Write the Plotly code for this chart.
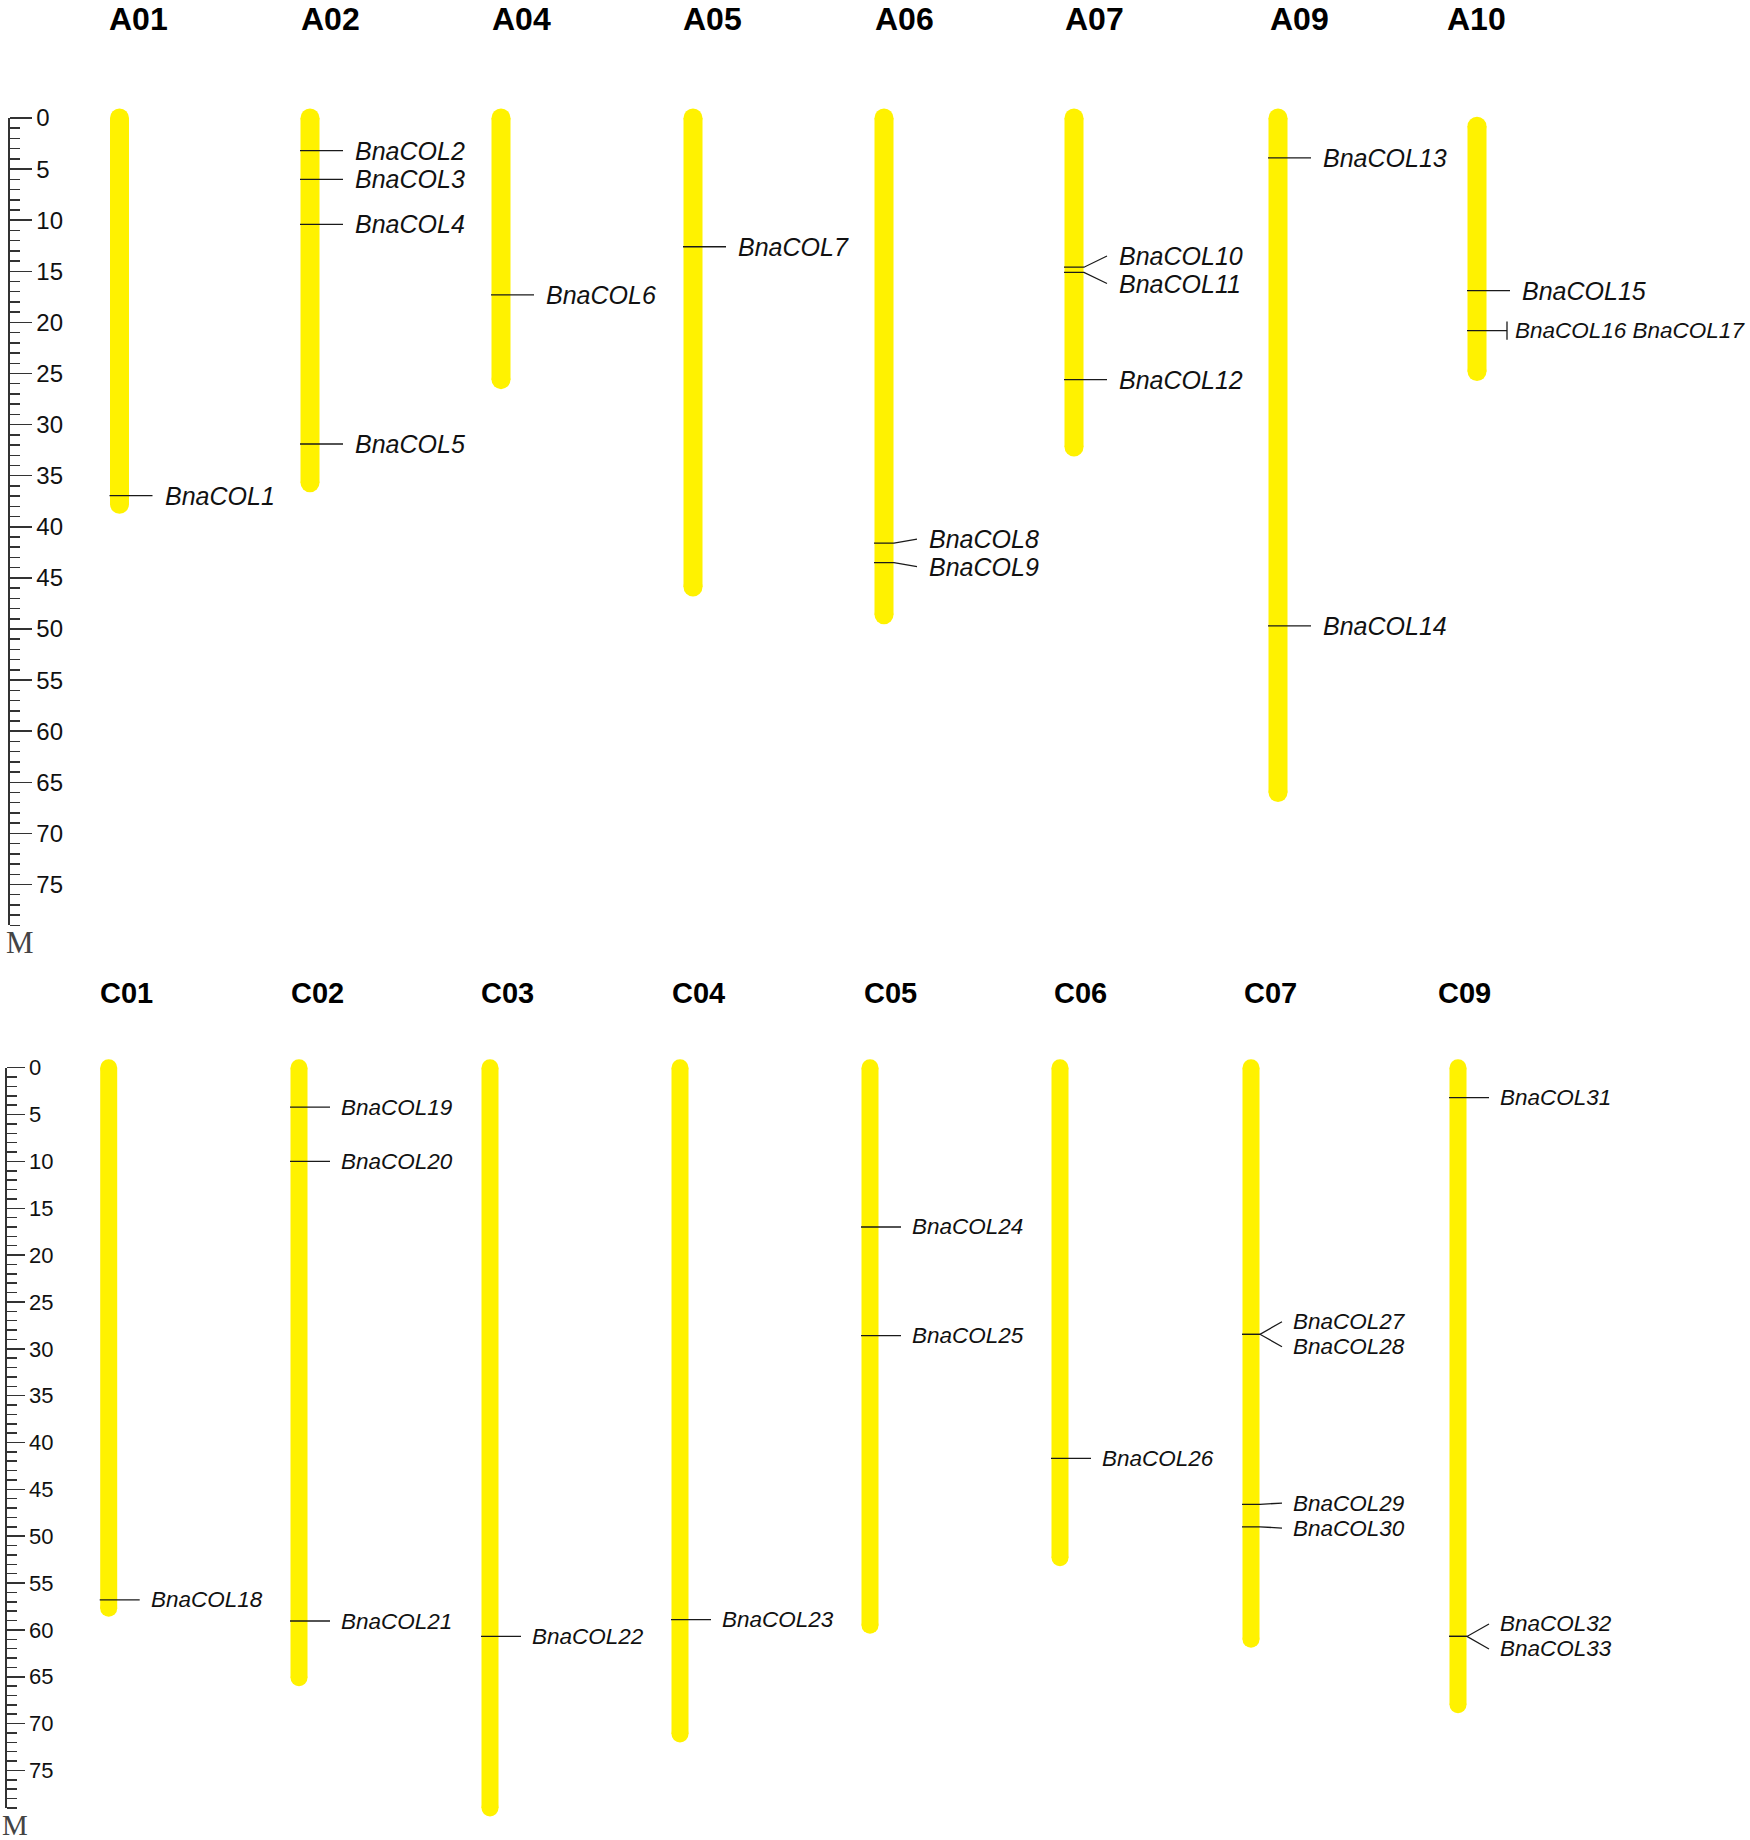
import plotly.graph_objects as go

# ------------------------------------------------------------------ data
top_chroms = ["A01", "A02", "A04", "A05", "A06", "A07", "A09", "A10"]
top_start = [0, 0, 0, 0, 0, 0, 0, 0.8]
top_end = [37.8, 35.7, 25.6, 45.9, 48.6, 32.2, 66.0, 24.8]

bot_chroms = ["C01", "C02", "C03", "C04", "C05", "C06", "C07", "C09"]
bot_start = [0, 0, 0, 0, 0, 0, 0, 0]
bot_end = [57.7, 65.1, 79.0, 71.1, 59.5, 52.3, 61.0, 68.0]

gene_names = [
    "BnaCOL1", "BnaCOL2", "BnaCOL3", "BnaCOL4", "BnaCOL5", "BnaCOL6", "BnaCOL7",
    "BnaCOL8", "BnaCOL9", "BnaCOL10", "BnaCOL11", "BnaCOL12", "BnaCOL13",
    "BnaCOL14", "BnaCOL15", "BnaCOL16", "BnaCOL17", "BnaCOL18", "BnaCOL19",
    "BnaCOL20", "BnaCOL21", "BnaCOL22", "BnaCOL23", "BnaCOL24", "BnaCOL25",
    "BnaCOL26", "BnaCOL27", "BnaCOL28", "BnaCOL29", "BnaCOL30", "BnaCOL31",
    "BnaCOL32", "BnaCOL33",
]
gene_chrom = [
    "A01", "A02", "A02", "A02", "A02", "A04", "A05",
    "A06", "A06", "A07", "A07", "A07", "A09",
    "A09", "A10", "A10", "A10", "C01", "C02",
    "C02", "C02", "C03", "C04", "C05", "C05",
    "C06", "C07", "C07", "C07", "C07", "C09",
    "C09", "C09",
]
gene_pos = [
    36.95, 3.2, 6.0, 10.4, 31.9, 17.3, 12.6,
    41.6, 43.5, 14.6, 15.1, 25.6, 3.9,
    49.7, 16.9, 20.8, 20.8, 56.8, 4.2,
    10.0, 59.05, 60.7, 58.9, 17.0, 28.6,
    41.7, 28.45, 28.45, 46.6, 49.0, 3.2,
    60.7, 60.7,
]
ruler_max = 79
ruler_labels = [0, 5, 10, 15, 20, 25, 30, 35, 40, 45, 50, 55, 60, 65, 70, 75]

# ------------------------------------------------------------------ layout constants (pixels)
W, H = 1750, 1840
YELLOW = "#FFF200"
LINE = "#1a1a1a"
SANS = "Liberation Sans, Arial, sans-serif"
SERIF = "Liberation Serif, Times New Roman, serif"

top_x = [119.5, 310, 501, 693, 884, 1074, 1278, 1477]
bot_x = [108.7, 299, 490, 680, 870, 1060, 1251, 1458]
top_title_x = [138, 330, 521, 712.6, 904, 1094.5, 1299, 1476]
bot_title_x = [126.5, 317.5, 508, 698.5, 890, 1080, 1270, 1464]
inline_groups = [["BnaCOL16", "BnaCOL17"]]
inline_right_edge = 1747

panels = [
    dict(axis="y", chroms=top_chroms, start=top_start, end=top_end, xs=top_x,
         title_x=top_title_x, title_y=19, title_size=32, y0=118.0, ppu=10.22,
         width=19, tick_l=-10, kink=10, tick_r=33, label_dx=43, label_size=25,
         min_gap_px=27.5, axis_x=8, major_len=22, minor_len=10, tick_size=24,
         m_xy=(20, 943), m_size=31),
    dict(axis="y2", chroms=bot_chroms, start=bot_start, end=bot_end, xs=bot_x,
         title_x=bot_title_x, title_y=993, title_size=29, y0=1067.7, ppu=9.37,
         width=17, tick_l=-9, kink=9, tick_r=31, label_dx=40, label_size=22.5,
         min_gap_px=25.0, axis_x=5, major_len=18, minor_len=10, tick_size=22,
         m_xy=(15, 1825), m_size=29),
]


def spread(positions, min_gap):
    clusters = [[p] for p in positions]
    while True:
        placed = []
        for c in clusters:
            m = sum(c) / len(c)
            n = len(c)
            placed.append([m + (i - (n - 1) / 2) * min_gap for i in range(n)])
        merged = False
        for i in range(len(clusters) - 1):
            if placed[i + 1][0] - placed[i][-1] < min_gap - 1e-9:
                clusters[i] = clusters[i] + clusters[i + 1]
                del clusters[i + 1]
                merged = True
                break
        if not merged:
            return [y for c in placed for y in c]


fig = go.Figure()
annotations = []
layout_axes = {}

for p in panels:
    ax = p["axis"]
    yref = ax
    top_px = p["y0"]
    bot_px = p["y0"] + ruler_max * p["ppu"]
    domain = [1 - bot_px / H, 1 - top_px / H]
    key = "yaxis" if ax == "y" else "yaxis2"
    layout_axes[key] = dict(
        domain=domain, range=[ruler_max, 0], anchor="free",
        position=p["axis_x"] / W, side="right", showgrid=False, zeroline=False,
        showline=True, linecolor="#333", linewidth=1.5, automargin=False,
        ticks="outside", ticklen=p["major_len"], tickwidth=1.5, tickcolor="#333",
        tickvals=ruler_labels, ticktext=[str(v) for v in ruler_labels],
        tickfont=dict(family=SANS, size=p["tick_size"], color="#111"),
        minor=dict(tickvals=list(range(0, ruler_max + 1)), ticks="outside",
                   ticklen=p["minor_len"], tickwidth=1.5, tickcolor="#333"),
        fixedrange=True,
    )

    for name, s, e, cx, tx in zip(p["chroms"], p["start"], p["end"], p["xs"], p["title_x"]):
        fig.add_trace(go.Scatter(
            x=[cx, cx], y=[s, e], yaxis=ax, mode="lines+markers",
            line=dict(color=YELLOW, width=p["width"]),
            marker=dict(color=YELLOW, size=p["width"], line=dict(width=0)),
            cliponaxis=False, hoverinfo="skip", showlegend=False,
        ))
        annotations.append(dict(
            x=tx / W, y=1 - p["title_y"] / H, xref="paper", yref="paper",
            text=f"<b>{name}</b>", showarrow=False, xanchor="center", yanchor="middle",
            font=dict(family=SANS, size=p["title_size"], color="#000"),
        ))

        idx = [i for i, c in enumerate(gene_chrom) if c == name]
        idx.sort(key=lambda i: gene_pos[i])
        entries = []
        used = set()
        for i in idx:
            if i in used:
                continue
            group = None
            for g in inline_groups:
                if gene_names[i] in g:
                    group = [j for j in idx if gene_names[j] in g]
            if group:
                used.update(group)
                entries.append(dict(pos=gene_pos[i], names=[gene_names[j] for j in group], inline=True))
            else:
                used.add(i)
                entries.append(dict(pos=gene_pos[i], names=[gene_names[i]], inline=False))
        min_gap = p["min_gap_px"] / p["ppu"]
        label_ys = spread([en["pos"] for en in entries], min_gap)

        lx, ly = [], []
        for en, lyv in zip(entries, label_ys):
            g = en["pos"]
            if en["inline"]:
                end_x = cx + p["tick_r"] - 3
                lx += [cx + p["tick_l"], end_x, None, end_x, end_x, None]
                ly += [g, g, None, g - 0.9, g + 0.9, None]
                annotations.append(dict(
                    x=inline_right_edge, y=g, xref="x", yref=yref,
                    text="<i>" + " ".join(en["names"]) + "</i>", showarrow=False,
                    xanchor="right", yanchor="middle",
                    font=dict(family=SANS, size=p["label_size"] - 2.5, color="#111"),
                ))
            else:
                lx += [cx + p["tick_l"], cx + p["kink"], cx + p["tick_r"], None]
                ly += [g, g, lyv, None]
                annotations.append(dict(
                    x=cx + p["label_dx"], y=lyv, xref="x", yref=yref,
                    text="<i>" + en["names"][0] + "</i>", showarrow=False,
                    xanchor="left", yanchor="middle",
                    font=dict(family=SANS, size=p["label_size"], color="#111"),
                ))
        if lx:
            fig.add_trace(go.Scatter(
                x=lx, y=ly, yaxis=ax, mode="lines",
                line=dict(color=LINE, width=1.3), cliponaxis=False,
                hoverinfo="skip", showlegend=False,
            ))

    mx, my = p["m_xy"]
    annotations.append(dict(
        x=mx / W, y=1 - my / H, xref="paper", yref="paper", text="M",
        showarrow=False, xanchor="center", yanchor="middle",
        font=dict(family=SERIF, size=p["m_size"], color="#444"),
    ))

fig.update_layout(
    width=W, height=H,
    margin=dict(l=0, r=0, t=0, b=0, pad=0, autoexpand=False),
    paper_bgcolor="white", plot_bgcolor="white",
    xaxis=dict(range=[0, W], domain=[0, 1], visible=False, fixedrange=True,
               automargin=False),
    annotations=annotations, showlegend=False,
    **layout_axes,
)

fig.write_html(
    "out.html",
    config={"displayModeBar": False, "staticPlot": True},
    post_script=(
        "document.body.style.margin='0';"
        "document.body.style.overflow='hidden';"
        "var d=document.getElementsByClassName('plotly-graph-div')[0];"
        "d.style.position='absolute';d.style.top='0px';d.style.left='0px';"
    ),
)
